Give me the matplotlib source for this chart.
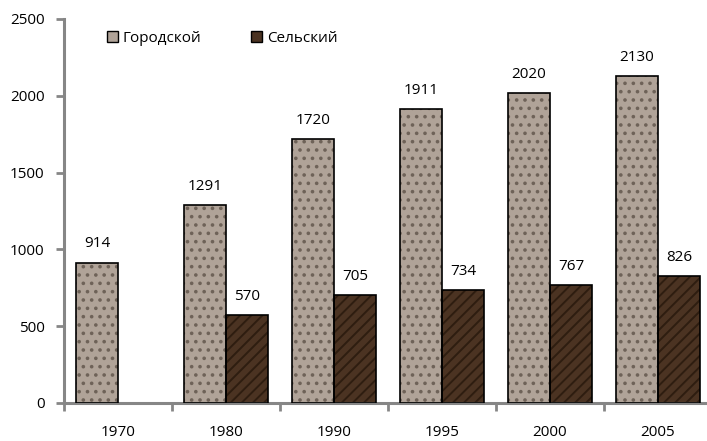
import numpy as np
import matplotlib.pyplot as plt
from matplotlib.patches import Patch

years = ['1970', '1980', '1990', '1995', '2000', '2005']
urban = [914, 1291, 1720, 1911, 2020, 2130]
rural = [None, 570, 705, 734, 767, 826]

plt.rcParams['font.family'] = ['Open Sans', 'DejaVu Sans']
plt.rcParams['hatch.linewidth'] = 1.4

fig = plt.figure(figsize=(7.07, 4.41), dpi=100)
ax = fig.add_axes([64 / 707, 38 / 441, 648 / 707, 384 / 441])

x = np.arange(len(years))
w = 0.39
fs = 11

urban_color = '#b0a398'
urban_speck = '#6e6258'
rural_color = '#4b3322'
rural_speck = '#2e1d10'


def draw(pos, v, color, speck, hatch):
    # filled bar with texture, then a separate black outline on top
    ax.bar(pos, v, w, color=color, edgecolor=speck, lw=0, hatch=hatch, zorder=2)
    ax.bar(pos, v, w, fill=False, edgecolor='black', lw=1.2, zorder=3)
    ax.annotate(str(v), (pos, v), xytext=(0, 8), textcoords='offset points',
                ha='center', va='bottom', fontsize=fs)


for i, v in enumerate(urban):
    draw(x[i] - w / 2, v, urban_color, urban_speck, '..')
for i, v in enumerate(rural):
    if v is not None:
        draw(x[i] + w / 2, v, rural_color, rural_speck, '///')

ax.set_xlim(-0.5, len(years) - 0.5)
ax.set_ylim(0, 2500)
ax.set_yticks(range(0, 2501, 500))
ax.set_xticks(x)
ax.set_xticklabels(years, fontsize=fs)
ax.set_xticks(np.arange(-0.5, len(years)), minor=True)
ax.tick_params(axis='x', which='major', length=0, pad=16)
ax.tick_params(axis='x', which='minor', length=6, width=2, color='#868686', direction='out')
ax.tick_params(axis='y', length=6, width=2, color='#868686', labelsize=fs, pad=8)

for s in ['top', 'right']:
    ax.spines[s].set_visible(False)
for s in ['left', 'bottom']:
    ax.spines[s].set_color('#868686')
    ax.spines[s].set_linewidth(2.2)

handles = [Patch(facecolor=urban_color, edgecolor='black', label='Городской'),
           Patch(facecolor=rural_color, edgecolor='black', label='Сельский')]
ax.legend(handles=handles, loc='upper left', bbox_to_anchor=(0.045, 1.005), ncol=2,
          frameon=False, fontsize=fs, handlelength=0.7, handleheight=0.7,
          handletextpad=0.3, columnspacing=3.3)

fig.savefig('out.png', dpi=100)
